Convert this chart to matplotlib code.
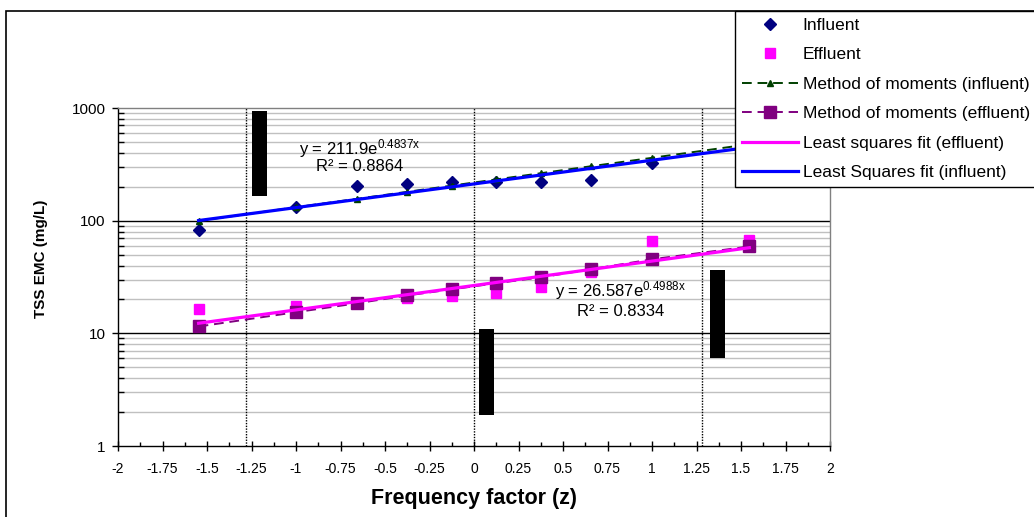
import numpy as np
import matplotlib
matplotlib.use('Agg')
import matplotlib.pyplot as plt
from matplotlib.patches import Rectangle
from matplotlib.ticker import FixedLocator, FixedFormatter, NullFormatter

plt.rcParams['font.family'] = ['Liberation Sans', 'DejaVu Sans']
plt.rcParams['mathtext.fontset'] = 'custom'
plt.rcParams['mathtext.rm'] = 'Liberation Sans'
plt.rcParams['mathtext.it'] = 'Liberation Sans'
plt.rcParams['mathtext.default'] = 'regular'

# frequency factors of the ranked events (n = 10)
z = [-1.547, -1.000, -0.655, -0.375, -0.122, 0.122, 0.375, 0.655, 1.000, 1.547]

# observed TSS EMCs (mg/L)
influent = [83, 133, 204, 213, 222, 222, 222, 231, 327, 460]
effluent = [16.3, 17.4, 18.5, 20.4, 21.3, 22.6, 25.6, 35, 65.5, 68]

# method of moments (lognormal) estimates
mom_influent = [99.6, 131.6, 156.5, 180.3, 204.9, 232.0, 263.6, 303.7, 361.2, 477]
mom_effluent = [11.5, 15.4, 18.5, 21.7, 24.6, 27.8, 31.4, 37, 45.4, 59]

# least squares fits y = a*e^(b*z) and R^2
inf_a, inf_b, inf_r2 = 211.9, 0.4837, 0.8864
eff_a, eff_b, eff_r2 = 26.587, 0.4988, 0.8334

# 10 %, 50 %, 90 % frequency factors
z_marks = [-1.28, 0, 1.28]

# black range bars
bar_x = [-1.205, 0.070, 1.368]
bar_lo = [166, 1.9, 6.05]
bar_hi = [940, 10.9, 36.6]

xtick_vals = [-2, -1.75, -1.5, -1.25, -1, -0.75, -0.5, -0.25, 0,
              0.25, 0.5, 0.75, 1, 1.25, 1.5, 1.75, 2]
xtick_labels = ['-2', '-1.75', '-1.5', '-1.25', '-1', '-0.75', '-0.5', '-0.25', '0',
                '0.25', '0.5', '0.75', '1', '1.25', '1.5', '1.75', '2']
ytick_vals = [1, 10, 100, 1000]
ytick_labels = ['1', '10', '100', '1000']

W, H = 1034, 517
fig = plt.figure(figsize=(W / 100, H / 100), dpi=100)
ax = fig.add_axes([118 / W, 1 - 446 / H, 712 / W, 338 / H])
ax.set_yscale('log')
ax.set_xlim(-2, 2)
ax.set_ylim(1, 1000)

# gridlines: gray minor, black at 10 and 100
for dec in [1, 10, 100]:
    for k in range(2, 10):
        ax.axhline(k * dec, color='#c0c0c0', lw=1, zorder=0)
for v in [10, 100]:
    ax.axhline(v, color='black', lw=1, zorder=0.5)
for v in z_marks:
    ax.axvline(v, color='black', lw=1, ls=(0, (1, 1)), zorder=0.5)

ax.bar(bar_x, np.subtract(bar_hi, bar_lo), bottom=bar_lo, width=0.081,
       color='black', zorder=1)

zf = np.linspace(z[0], z[-1], 100)
ax.plot(z, influent, 'D', color='#000080', ms=6.6, label='Influent', zorder=2)
ax.plot(z, effluent, 's', color='#ff00ff', ms=6.5, mec='#ff00ff', label='Effluent', zorder=2)
ax.plot(z, mom_influent, marker='^', ls=(0, (5, 3)), color='#004000', ms=4.5, lw=1.4,
        label='Method of moments (influent)', zorder=3)
ax.plot(z, mom_effluent, marker='s', ls=(0, (5, 3)), color='#800080', ms=8, lw=1.4,
        label='Method of moments (effluent)', zorder=3)
ax.plot(zf, eff_a * np.exp(eff_b * zf), '-', color='#ff00ff', lw=2.3,
        label='Least squares fit (effluent)', zorder=4)
ax.plot(zf, inf_a * np.exp(inf_b * zf), '-', color='#0000ff', lw=2.3,
        label='Least Squares fit (influent)', zorder=4)

# fit equations
ax.text(-0.64, 441, f'y = {inf_a}e$^{{{inf_b}x}}$', ha='center', va='center', fontsize=12, zorder=5)
ax.text(-0.64, 305, f'R² = {inf_r2}', ha='center', va='center', fontsize=12, zorder=5)
ax.text(0.823, 24.1, f'y = {eff_a}e$^{{{eff_b}x}}$', ha='center', va='center', fontsize=12, zorder=5)
ax.text(0.823, 15.7, f'R² = {eff_r2}', ha='center', va='center', fontsize=12, zorder=5)

# axes and ticks
ax.xaxis.set_major_locator(FixedLocator(xtick_vals))
ax.xaxis.set_major_formatter(FixedFormatter(xtick_labels))
ax.xaxis.set_minor_locator(FixedLocator(np.arange(-1.875, 2, 0.25)))
ax.yaxis.set_major_locator(FixedLocator(ytick_vals))
ax.yaxis.set_major_formatter(FixedFormatter(ytick_labels))
ax.yaxis.set_minor_locator(FixedLocator([k * d for d in [1, 10, 100] for k in range(2, 10)]))
ax.yaxis.set_minor_formatter(NullFormatter())
ax.tick_params(axis='x', which='major', direction='inout', length=7, width=1, pad=8, labelsize=10)
ax.tick_params(axis='x', which='minor', direction='in', length=3, width=1)
ax.tick_params(axis='y', which='major', direction='out', length=4, width=1, labelsize=11, pad=5)
ax.tick_params(axis='y', which='minor', direction='in', length=4, width=1)
for s in ['left', 'bottom']:
    ax.spines[s].set_color('black')
    ax.spines[s].set_linewidth(1)
for s in ['top', 'right']:
    ax.spines[s].set_color('#808080')
    ax.spines[s].set_linewidth(1)

ax.set_xlabel('Frequency factor (z)', fontsize=15.5, fontweight='bold', labelpad=9)
fig.text(41 / W, 1 - 259 / H, 'TSS EMC (mg/L)', rotation=90, fontsize=11,
         fontweight='bold', ha='center', va='center')

# chart border
fig.patches.append(Rectangle((6 / W, -0.1), 1.2, 1.1 - 11 / H, transform=fig.transFigure,
                             fill=False, edgecolor='black', lw=1.2))

fig.legend(loc='upper left', bbox_to_anchor=(735 / W, 1 - 11 / H), fontsize=12.5,
           frameon=True, fancybox=False, edgecolor='black', framealpha=1,
           handlelength=3.2, handletextpad=0.3, labelspacing=0.82,
           borderpad=0.4, borderaxespad=0, numpoints=1)
fig.legends[0].get_frame().set_linewidth(1)

plt.savefig('out.png', dpi=100)
